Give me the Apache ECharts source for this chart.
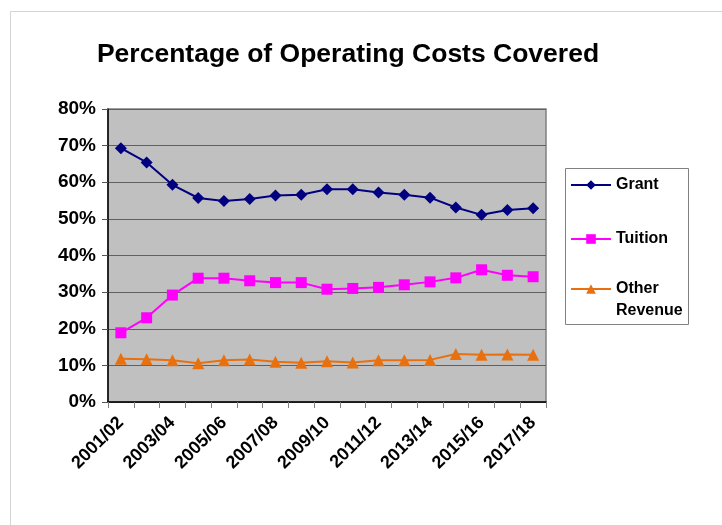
<!DOCTYPE html>
<html>
<head>
<meta charset="utf-8">
<script src="https://cdn.jsdelivr.net/npm/echarts@6/dist/echarts.min.js"></script>
<style>
  html, body { margin: 0; padding: 0; background: #fff; }
  #chart { width: 722px; height: 525px; }
</style>
</head>
<body>
<div id="chart"></div>
<script>
// Fiscal years on the category axis
const years = [
  '2001/02', '2002/03', '2003/04', '2004/05', '2005/06', '2006/07', '2007/08', '2008/09',
  '2009/10', '2010/11', '2011/12', '2012/13', '2013/14', '2014/15', '2015/16', '2016/17', '2017/18'
];

// Share of operating costs covered by each source (%)
const grant = [69.3, 65.4, 59.3, 55.7, 54.9, 55.4, 56.4, 56.6, 58.1, 58.1, 57.2, 56.6, 55.8, 53.1, 51.1, 52.4, 52.9];
const tuition = [18.9, 23.0, 29.2, 33.8, 33.8, 33.1, 32.6, 32.6, 30.8, 31.0, 31.3, 32.0, 32.8, 33.9, 36.1, 34.6, 34.2];
const otherRevenue = [11.8, 11.7, 11.4, 10.6, 11.4, 11.6, 11.0, 10.7, 11.1, 10.8, 11.4, 11.4, 11.5, 13.1, 12.9, 13.0, 12.9];

// Value axis ticks (%)
const yTicks = [0, 10, 20, 30, 40, 50, 60, 70, 80];

const font = 'Liberation Sans, Arial, sans-serif';
const legendText = { fontFamily: font, fontWeight: 'bold', fontSize: 16, color: '#000', lineHeight: 22 };

// One legend entry per block so each sits at its own height inside the shared frame
function legendEntry(name, top, formatter) {
  return {
    orient: 'vertical',
    left: 570,
    top: top,
    padding: 0,
    itemWidth: 40,
    itemHeight: 12,
    itemGap: 4,
    textStyle: legendText,
    formatter: formatter || '{name}',
    data: [name]
  };
}

const chart = echarts.init(document.getElementById('chart'), null, { renderer: 'canvas' });

chart.setOption({
  backgroundColor: '#ffffff',
  animation: false,
  graphic: [
    {
      type: 'rect',
      shape: { x: 10.5, y: 11.5, width: 720, height: 530 },
      style: { fill: 'none', stroke: '#d4d4d4', lineWidth: 1 },
      silent: true
    },
    {
      type: 'rect',
      shape: { x: 565.5, y: 168.5, width: 123, height: 156 },
      style: { fill: '#ffffff', stroke: '#808080', lineWidth: 1 },
      silent: true
    }
  ],
  title: {
    text: 'Percentage of Operating Costs Covered',
    left: 343,
    textAlign: 'center',
    top: 36,
    textStyle: { fontFamily: font, fontWeight: 'bold', fontSize: 26.5, color: '#000' }
  },
  legend: [
    legendEntry('Grant', 174),
    legendEntry('Tuition', 228),
    legendEntry('Other Revenue', 256, function () { return '\nOther\nRevenue'; })
  ],
  grid: {
    left: 108,
    top: 109,
    right: 176,
    bottom: 123,
    show: true,
    backgroundColor: '#c0c0c0',
    borderColor: '#808080',
    borderWidth: 1.5
  },
  xAxis: {
    type: 'category',
    data: years,
    boundaryGap: true,
    axisLine: { lineStyle: { color: '#000', width: 1.5 } },
    axisTick: { show: true, interval: 0, length: 6, lineStyle: { color: '#808080' } },
    axisLabel: {
      interval: 1,
      rotate: 45,
      margin: 18,
      fontFamily: font,
      fontWeight: 'bold',
      fontSize: 18,
      color: '#000'
    }
  },
  yAxis: {
    type: 'value',
    min: yTicks[0],
    max: yTicks[yTicks.length - 1],
    interval: 10,
    axisLine: { show: true, lineStyle: { color: '#000', width: 1.5 } },
    axisTick: { show: true, length: 6, lineStyle: { color: '#555' } },
    splitLine: { show: true, lineStyle: { color: '#606060', width: 1.2 } },
    axisLabel: {
      formatter: '{value}%',
      margin: 12,
      fontFamily: font,
      fontWeight: 'bold',
      fontSize: 19,
      color: '#000'
    }
  },
  series: [
    {
      name: 'Grant',
      type: 'line',
      data: grant,
      symbol: 'diamond',
      symbolSize: 12,
      lineStyle: { color: '#000080', width: 2 },
      itemStyle: { color: '#000080' }
    },
    {
      name: 'Tuition',
      type: 'line',
      data: tuition,
      symbol: 'rect',
      symbolSize: 11,
      lineStyle: { color: '#ff00ff', width: 2 },
      itemStyle: { color: '#ff00ff' }
    },
    {
      name: 'Other Revenue',
      type: 'line',
      data: otherRevenue,
      symbol: 'triangle',
      symbolSize: 12,
      lineStyle: { color: '#e8700f', width: 2 },
      itemStyle: { color: '#e8700f' }
    }
  ]
});
</script>
</body>
</html>
